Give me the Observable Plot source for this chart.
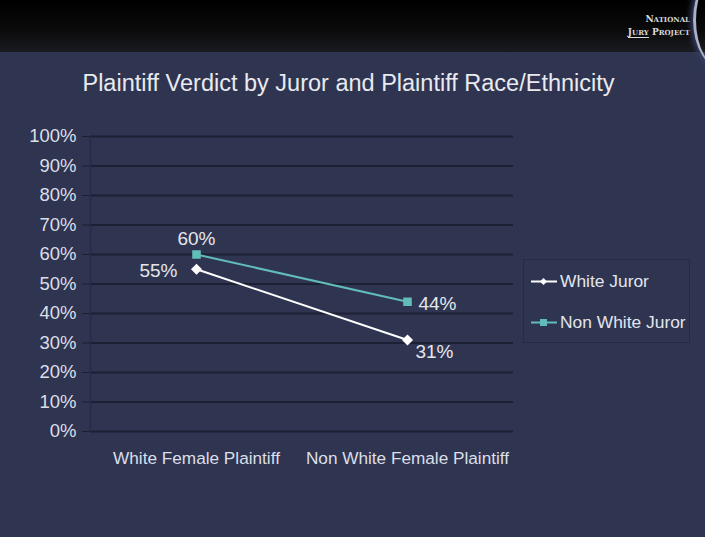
<!DOCTYPE html>
<html>
<head>
<meta charset="utf-8">
<script src="https://cdn.jsdelivr.net/npm/d3@7"></script>
<script src="https://cdn.jsdelivr.net/npm/@observablehq/plot@0.6"></script>
<style>
  html, body { margin: 0; padding: 0; }
  body { width: 705px; height: 537px; background: #2f3550; position: relative; overflow: hidden; font-family: "Liberation Sans", Arial, sans-serif; }
  #header { position: absolute; left: 0; top: 0; width: 705px; height: 52px; background: linear-gradient(#000 0%, #0b0b0c 60%, #1a1b20 100%); }
  #logo { position: absolute; left: 610px; top: 13px; width: 80px; color: #d9d9d9; font-family: "DejaVu Serif", serif; font-size: 9px; line-height: 12px; text-align: right; font-weight: bold; }
  #logo .u { border-bottom: 1px solid #d9d9d9; }
  #arc { position: absolute; left: 693px; top: -30px; width: 60px; height: 100px; border-left: 3px solid #a9b1c8; border-radius: 50%; box-shadow: -2px 0 6px #3b4670; }
  #title { position: absolute; left: 0; top: 70px; width: 697px; text-align: center; color: #e8eaf0; font-size: 23.5px; }
  #chart { position: absolute; left: 0; top: 110px; }
  #legend { position: absolute; left: 523px; top: 259px; width: 167px; height: 84px; border: 1px solid #262b42; box-sizing: border-box; }
  .item { position: absolute; left: 7px; display: flex; align-items: center; color: #e3e5ee; font-size: 17.4px; white-space: nowrap; }
  .item svg { margin-right: 3px; }
</style>
</head>
<body>
<div id="header"><div id="logo">N<span style="font-size:7px">ATIONAL</span><br><span class="u">J<span style="font-size:7px">URY</span></span> P<span style="font-size:7px">ROJECT</span></div><div id="arc"></div></div>
<div id="title">Plaintiff Verdict by Juror and Plaintiff Race/Ethnicity</div>
<div id="chart"></div>
<div id="legend"></div>
<script>
const categories = ["White Female Plaintiff", "Non White Female Plaintiff"];
const seriesNames = ["White Juror", "Non White Juror"];
const whiteJuror = [55, 31];
const nonWhiteJuror = [60, 44];
const yTicks = [0, 10, 20, 30, 40, 50, 60, 70, 80, 90, 100];
const seriesColors = ["#ffffff", "#62bdb8"];

const data = [];
categories.forEach((c, i) => {
  data.push({cat: c, series: seriesNames[0], value: whiteJuror[i], i});
  data.push({cat: c, series: seriesNames[1], value: nonWhiteJuror[i], i});
});
const pick = (s, i) => data.filter(d => d.series === s && d.i === i);
const lbl = {text: d => d.value + "%", fill: "#e4e6ee", fontSize: 19};

const plot = Plot.plot({
  width: 705,
  height: 380,
  marginLeft: 90,
  marginRight: 192,
  marginTop: 26,
  marginBottom: 59,
  style: {background: "transparent", fontFamily: "Liberation Sans, Arial, sans-serif", color: "#dfe2ea"},
  x: {type: "point", domain: categories, padding: 0.5, label: null},
  y: {domain: [0, 100], label: null},
  color: {domain: seriesNames, range: seriesColors},
  marks: [
    Plot.gridY(yTicks, {stroke: "#1c2034", strokeOpacity: 1, strokeWidth: 1.8}),
    Plot.frame({anchor: "left", stroke: "#262b42", strokeWidth: 1.2}),
    Plot.axisY(yTicks, {tickFormat: d => d + "%", tickSize: 8, tickPadding: 6, stroke: "#1c2034", fill: "#dcdfe8", fontSize: 18.5, label: null}),
    Plot.axisX({tickSize: 0, tickPadding: 20, fill: "#dcdfe8", fontSize: 17.2, label: null}),
    Plot.line(data, {x: "cat", y: "value", z: "series", stroke: "series", strokeWidth: 2}),
    Plot.dot(data.filter(d => d.series === seriesNames[0]), {x: "cat", y: "value", symbol: "diamond2", r: 4, fill: seriesColors[0], stroke: seriesColors[0]}),
    Plot.dot(data.filter(d => d.series === seriesNames[1]), {x: "cat", y: "value", symbol: "square2", r: 4.5, fill: seriesColors[1], stroke: seriesColors[1]}),
    Plot.text(pick(seriesNames[1], 0), {x: "cat", y: "value", ...lbl, dy: -16}),
    Plot.text(pick(seriesNames[0], 0), {x: "cat", y: "value", ...lbl, dx: -38, dy: 2}),
    Plot.text(pick(seriesNames[1], 1), {x: "cat", y: "value", ...lbl, dx: 30, dy: 2}),
    Plot.text(pick(seriesNames[0], 1), {x: "cat", y: "value", ...lbl, dx: 27, dy: 12})
  ]
});
document.getElementById("chart").appendChild(plot);

// legend
const legend = document.getElementById("legend");
seriesNames.forEach((name, k) => {
  const item = document.createElement("div");
  item.className = "item";
  item.style.top = (k === 0 ? 11 : 52) + "px";
  const sym = k === 0
    ? `<polygon points="12.5,2 16,5.5 12.5,9 9,5.5" fill="${seriesColors[k]}"/>`
    : `<rect x="9" y="2" width="7" height="7" fill="${seriesColors[k]}"/>`;
  item.innerHTML = `<svg width="26" height="11"><line x1="0" x2="26" y1="5.5" y2="5.5" stroke="${seriesColors[k]}" stroke-width="2"/>${sym}</svg><span>${name}</span>`;
  legend.appendChild(item);
});
</script>
</body>
</html>
